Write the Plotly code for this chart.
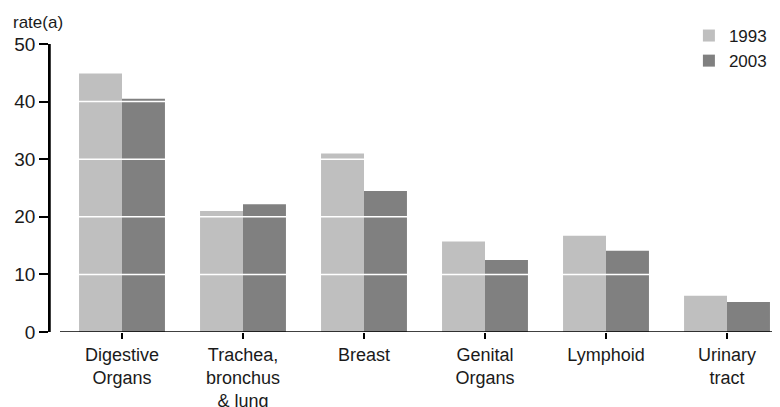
import plotly.graph_objects as go

categories = ["Digestive<br>Organs", "Trachea,<br>bronchus<br>& lung", "Breast",
              "Genital<br>Organs", "Lymphoid", "Urinary<br>tract"]
rate_1993 = [44.9, 21.0, 31.0, 15.7, 16.7, 6.3]
rate_2003 = [40.5, 22.2, 24.5, 12.5, 14.1, 5.2]
y_ticks = [0, 10, 20, 30, 40, 50]
grid_vals = [10, 20, 30, 40]

FONT = "Liberation Sans, Arial, sans-serif"
X0 = 10 / 730  # gap between the y axis and the start of the x baseline

fig = go.Figure()
fig.add_trace(go.Bar(name="1993", x=categories, y=rate_1993, marker_color="#bfbfbf",
                     marker_line_width=0))
fig.add_trace(go.Bar(name="2003", x=categories, y=rate_2003, marker_color="#808080",
                     marker_line_width=0))

for g in grid_vals:
    fig.add_shape(type="line", xref="paper", yref="y", x0=X0, x1=1, y0=g, y1=g,
                  line=dict(color="white", width=1.5), layer="above")
# detached x baseline
fig.add_shape(type="line", xref="paper", yref="y", x0=X0, x1=1, y0=0, y1=0,
              line=dict(color="black", width=1.5), layer="above")
# y axis line
fig.add_shape(type="line", xref="paper", yref="paper", x0=0, x1=0, y0=0, y1=1,
              line=dict(color="black", width=1.5), layer="above")

fig.update_layout(
    width=772, height=399,
    margin=dict(l=42, r=0, t=36, b=75, autoexpand=False),
    paper_bgcolor="white", plot_bgcolor="white",
    barmode="group", bargap=0.29, bargroupgap=0,
    font=dict(family=FONT, size=18, color="#1a1a1a"),
    showlegend=True,
    legend=dict(xref="container", yref="container", x=0.882, y=0.975,
                xanchor="left", yanchor="top",
                bgcolor="rgba(0,0,0,0)", font=dict(size=17),
                itemwidth=30, tracegroupgap=0),
    xaxis=dict(range=[-0.595, 5.438], showgrid=False, showline=False,
               ticks="outside", ticklen=6, tickcolor="black", tickwidth=1.5,
               tickfont=dict(size=18), automargin=False),
    yaxis=dict(range=[0, 50], tickvals=y_ticks,
               showgrid=False, showline=True, linecolor="black", linewidth=1.5,
               ticks="outside", ticklen=9, tickcolor="black", tickwidth=1.5,
               zeroline=False, tickfont=dict(size=19),
               automargin=False),
    annotations=[dict(text="rate(a)", xref="paper", yref="paper", x=-0.0534, y=1.035,
                      xanchor="left", yanchor="bottom", showarrow=False,
                      font=dict(size=17))],
)

fig.write_html("out.html")
